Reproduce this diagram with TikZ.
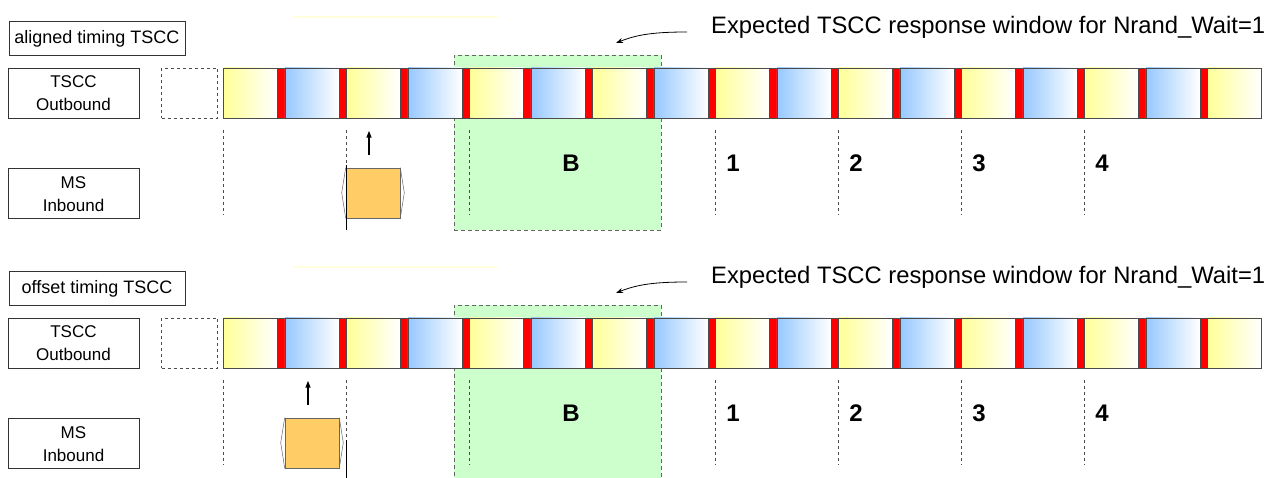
\documentclass[tikz,border=0pt]{standalone}
\usepackage{fontspec}
\setmainfont{Liberation Sans}
\usepackage{xcolor}
\usetikzlibrary{arrows.meta, positioning, calc}

\definecolor{slotYellow}{RGB}{255,255,150}
\definecolor{slotBlue}{RGB}{150,200,255}
\definecolor{winGreen}{RGB}{204,255,204}
\definecolor{msOrange}{RGB}{255,204,102}
\definecolor{faintYellow}{RGB}{255,255,220}

\begin{document}
\begin{tikzpicture}[
    x=1pt, y=-1pt,
    ttlbox/.style={rectangle, draw=black!80, line width=0.8pt, minimum width=176pt, minimum height=34pt, inner sep=0pt, font=\fontsize{18}{22}\selectfont},
    lbl/.style={rectangle, draw=black!80, line width=0.8pt, minimum width=131pt, minimum height=50pt, inner sep=0pt, align=center, font=\fontsize{17}{23}\selectfont},
    ghost/.style={rectangle, draw=black!70, dashed, line width=0.8pt, minimum width=56pt, minimum height=50pt, inner sep=0pt},
    slot/.style={rectangle, draw=black!70, line width=0.6pt, minimum width=54pt, minimum height=50pt, inner sep=0pt, anchor=west},
    redgap/.style={rectangle, draw=black!70, line width=0.6pt, fill=red, minimum width=7.5pt, minimum height=50pt, inner sep=0pt, anchor=west},
    win/.style={rectangle, draw=black!60, dash pattern=on 4pt off 3pt, line width=0.8pt, fill=winGreen, minimum width=207pt, minimum height=175pt, inner sep=0pt},
    guide/.style={black!70, line width=0.8pt, dash pattern=on 3pt off 3pt},
    blk/.style={rectangle, draw=black!60, line width=0.6pt, fill=msOrange, minimum width=54pt, minimum height=50pt, inner sep=0pt},
    hexline/.style={black!60, line width=0.5pt},
    num/.style={font=\fontsize{24}{28}\selectfont\bfseries, inner sep=0pt},
    note/.style={font=\fontsize{23.8}{28}\selectfont, inner sep=0pt, anchor=west},
    callout/.style={-{Stealth[length=7pt,width=5pt]}, line width=0.8pt},
    uparrow/.style={-{Triangle[length=7pt,width=5pt]}, line width=1.4pt}
]
    \useasboundingbox (0,0) rectangle (1278,478);

    \foreach \row/\dy/\ttl/\msx/\la in {top/0/aligned timing TSCC/373/165, bot/250/offset timing TSCC/312/190} {
    \begin{scope}[shift={(0,\dy)}]
        \draw[faintYellow, line width=1.5pt] (293,17) -- (497,17);

        % response window
        \node[win] (\row-win) at (557.5,142.5) {};

        % outbound slots
        \foreach \i in {0,...,16} {
            \ifodd\i\relax \def\c{slotBlue}\else \def\c{slotYellow}\fi
            \pgfmathsetmacro{\xs}{223+61.5*\i}
            \node[slot, left color=\c, right color=white] (\row-s\i) at (\xs,93) {};
            \ifnum\i<16\relax
                \node[redgap] (\row-r\i) at (\xs+54,93) {};
            \fi
        }
        \node[ghost, left=5pt of \row-s0] (\row-ghost) {};

        \foreach \k in {0,2,4,8,10,12,14} {
            \draw[guide] ([yshift=-12pt]\row-s\k.south west) -- ++(0,85);
        }
        \node[num] (\row-B) at (571,163) {B};
        \foreach \k/\n in {8/1,10/2,12/3,14/4} {
            \node[num] (\row-n\n) at ($(\row-s\k.south west)+(18,45)$) {\n};
        }

        % labels
        \node[ttlbox] (\row-ttl) at (97,38.5) {\ttl};
        \node[lbl] (\row-out) at (73.5,93) {TSCC\\Outbound};
        \node[lbl, below=50pt of \row-out] (\row-in) {MS\\Inbound};

        % MS burst
        \node[blk] (\row-blk) at (\msx,193) {};
        \draw[hexline] (\row-blk.north east) -- ++(4,25) -- (\row-blk.south east);
        \draw[hexline] (\row-blk.north west) -- ++(-4,25) -- (\row-blk.south west);
        \coordinate (\row-mk) at (346,\la);
        \draw[line width=0.8pt] (\row-mk) -- (\row-mk |- \row-win.south);
        \draw[uparrow] ([xshift=-4pt,yshift=13pt]\row-blk.north) -- ++(0,-24);

        % annotation
        \node[note] (\row-note) at (711,27) {Expected TSCC response window for Nrand\_Wait=1};
        \coordinate (\row-tip) at ($(\row-note.west)+(-95,16)$);
        \draw[callout] ([xshift=-24pt,yshift=-5pt]\row-note.west) .. controls +(-35,0) and +(20,-8) .. (\row-tip);
    \end{scope}
    }
\end{tikzpicture}
\end{document}
